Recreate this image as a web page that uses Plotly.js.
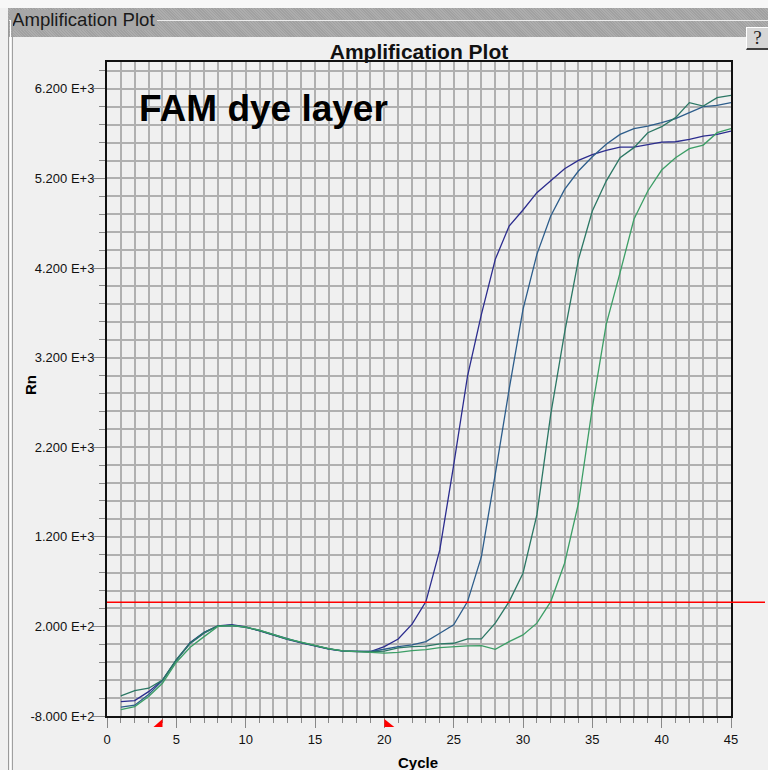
<!DOCTYPE html>
<html><head><meta charset="utf-8">
<script src="https://cdn.plot.ly/plotly-3.0.1.min.js"></script>
<style>
html,body{margin:0;padding:0;width:768px;height:770px;overflow:hidden;background:#f0f0f0;font-family:"Liberation Sans",Arial,sans-serif;}
#topstrip{position:absolute;left:0;top:0;width:768px;height:8px;background:#f7f7f7;}
#band{position:absolute;left:8px;top:8px;width:760px;height:29px;background:repeating-linear-gradient(45deg,#a1a1a1 0px,#a1a1a1 1px,#adadad 1px,#adadad 2px);}
#gline{position:absolute;left:8px;top:20px;width:760px;height:1px;background:#ececec;}
#lab{position:absolute;left:10px;top:10px;font-size:18.6px;color:#1a1a1a;background:#a7a7a7;padding:0 2px;line-height:20px;}
.vl{position:absolute;top:20px;height:750px;width:1px;}
#help{position:absolute;left:746px;top:27px;width:21px;height:20px;background:#d6d6d6;border-top:1px solid #fff;border-left:1px solid #fff;border-bottom:2px solid #404040;border-right:1px solid #404040;font-family:"Liberation Serif",serif;font-size:19px;line-height:20px;text-align:center;color:#222;}
#plot{position:absolute;left:0;top:0;width:768px;height:770px;}
</style>
</head><body>
<div id="topstrip"></div>
<div id="band"></div>
<div id="gline"></div>
<div id="lab">Amplification Plot</div>
<div class="vl" style="left:8px;background:#9a9a9a"></div>
<div class="vl" style="left:10px;background:#ffffff"></div>
<div class="vl" style="left:12px;background:#a0a0a0"></div>
<div id="help">?</div>
<div id="plot"></div>
<script>
// Cycles 1..45
const cycles = Array.from({length:45}, (_, i) => i + 1);

const wellA = [-639,-628,-528,-400,-174,20,135,205,220,195,150,100,55,15,-20,-52,-75,-82,-80,-25,
  60,225,477,1054,2000,2995,3683,4297,4669,4848,5041,5171,5309,5402,5465,5514,5550,5550,5581,5606,
  5610,5636,5673,5692,5729];
const wellB = [-700,-680,-560,-405,-180,10,125,205,210,190,155,108,60,20,-15,-50,-72,-80,-80,-55,
  -25,-6,30,124,217,477,979,1900,2846,3739,4353,4781,5078,5283,5443,5581,5692,5756,5785,5823,
  5867,5934,6001,6016,6046];
const wellC = [-576,-516,-490,-400,-170,15,130,205,212,192,152,102,58,22,-16,-50,-74,-82,-85,-75,
  -40,-25,-20,5,12,61,61,236,477,794,1444,2566,3479,4297,4836,5171,5432,5544,5711,5778,
  5879,6046,6008,6102,6127];
const wellD = [-728,-695,-583,-434,-200,-32,86,200,208,193,158,110,62,24,-12,-48,-72,-85,-90,-99,
  -90,-70,-60,-36,-25,-18,-14,-55,30,105,236,477,905,1575,2642,3572,4149,4744,5060,5294,
  5432,5533,5573,5711,5756];

const threshold = 470;
const baselineStart = 4;
const baselineEnd = 20;

const yTickVals = [-800,200,1200,2200,3200,4200,5200,6200];
const yTickText = ['-8.000 E+2','2.000 E+2','1.200 E+3','2.200 E+3','3.200 E+3','4.200 E+3','5.200 E+3','6.200 E+3'];

const wells = [wellA, wellB, wellC, wellD];
const colors = ['#2b2c8e','#2d5d8b','#2b7764','#3c9e66'];

const traces = wells.map((w, i) => ({
  x: cycles, y: w, type: 'scatter', mode: 'lines',
  line: {color: colors[i], width: 1.3}, hoverinfo: 'skip'
}));

const font = "Liberation Sans, Arial, sans-serif";
const gridC = '#b0b0b0';
const gridW = 2;

const layout = {
  width: 768, height: 770,
  margin: {l:107, r:37, t:62, b:54, pad:0},
  paper_bgcolor: 'rgba(0,0,0,0)',
  plot_bgcolor: '#f0f0f0',
  showlegend: false,
  hovermode: false,
  title: {text: '<b>Amplification Plot</b>', font: {family: font, size: 21, color: '#111'},
          x: 0.5, xref: 'paper', xanchor: 'center', y: 1 - 52/770, yref: 'container', yanchor: 'middle'},
  xaxis: {
    range: [0, 45], tickmode: 'linear', tick0: 0, dtick: 5,
    showgrid: true, gridcolor: gridC, gridwidth: gridW,
    ticks: 'outside', ticklen: 10, tickcolor: '#888', tickwidth: 1,
    minor: {dtick: 1, tick0: 0, showgrid: true, gridcolor: gridC, gridwidth: gridW, ticks: 'outside', ticklen: 5, tickcolor: '#888'},
    showline: true, linecolor: '#111', linewidth: 2, mirror: true,
    zeroline: false, tickfont: {family: font, size: 13, color: '#111'},
    ticklabelstandoff: 0
  },
  yaxis: {
    range: [-800, 6500], tickmode: 'array', tickvals: yTickVals, ticktext: yTickText,
    showgrid: true, gridcolor: gridC, gridwidth: gridW,
    ticks: 'outside', ticklen: 12, tickcolor: '#888', tickwidth: 1,
    minor: {dtick: 200, tick0: -800, showgrid: true, gridcolor: gridC, gridwidth: gridW, ticks: 'outside', ticklen: 6, tickcolor: '#888'},
    showline: true, linecolor: '#111', linewidth: 2, mirror: true,
    zeroline: false, tickfont: {family: font, size: 13, color: '#111'},
    ticklabelstandoff: -4
  },
  shapes: [
    {type: 'line', xref: 'paper', yref: 'y', x0: 0, x1: (765-107)/624, y0: threshold, y1: threshold,
     line: {color: '#ff0000', width: 1.5}, layer: 'above'},
    {type: 'path', xref: 'x', yref: 'paper', xsizemode: 'pixel', ysizemode: 'pixel',
     xanchor: baselineStart, yanchor: 0, path: 'M0,-3 L0,-11 L-9,-11 Z',
     fillcolor: '#ff0000', line: {width: 0}, layer: 'above'},
    {type: 'path', xref: 'x', yref: 'paper', xsizemode: 'pixel', ysizemode: 'pixel',
     xanchor: baselineEnd, yanchor: 0, path: 'M0,-3 L0,-11 L10,-11 Z',
     fillcolor: '#ff0000', line: {width: 0}, layer: 'above'}
  ],
  annotations: [
    {text: '<b>FAM dye layer</b>', xref: 'paper', yref: 'paper', x: 30/624, y: (716-108)/654,
     xanchor: 'left', yanchor: 'middle', showarrow: false, font: {family: font, size: 37, color: '#000'}},
    {text: '<b>Rn</b>', xref: 'paper', yref: 'paper', x: (30-107)/624, y: (716-385)/654,
     xanchor: 'center', yanchor: 'middle', textangle: -90, showarrow: false, font: {family: font, size: 15, color: '#000'}},
    {text: '<b>Cycle</b>', xref: 'paper', yref: 'paper', x: (418-107)/624, y: -(762-716)/654,
     xanchor: 'center', yanchor: 'middle', showarrow: false, font: {family: font, size: 15, color: '#000'}}
  ]
};

Plotly.newPlot('plot', traces, layout, {displayModeBar: false, staticPlot: true});
</script>
</body></html>
